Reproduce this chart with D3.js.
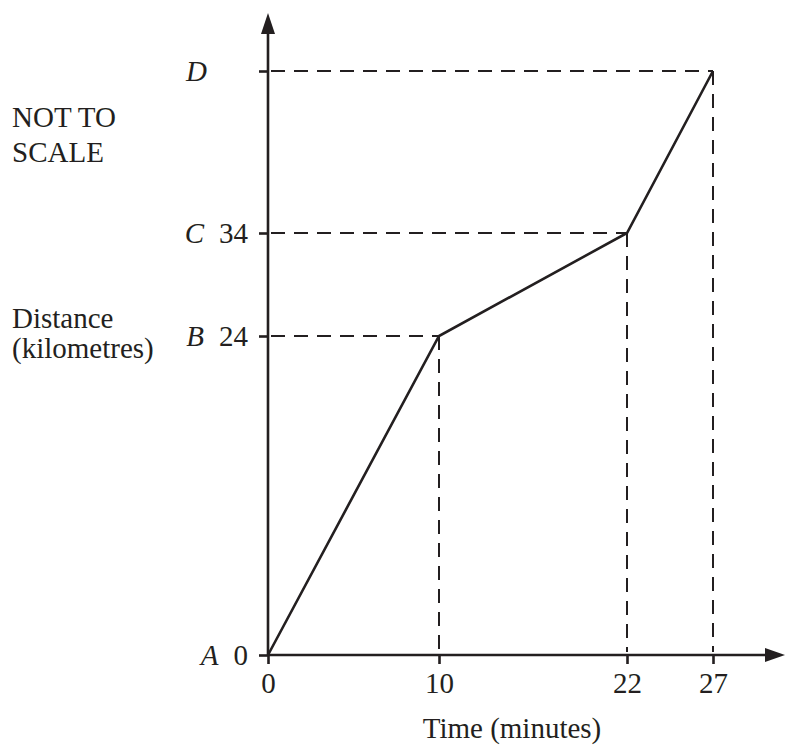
<!DOCTYPE html>
<html>
<head>
<meta charset="utf-8">
<script src="https://cdn.jsdelivr.net/npm/d3@7"></script>
<style>
  body { margin: 0; background: #fff; }
  text { font-family: "Liberation Serif", "Times New Roman", serif; font-size: 29px; fill: #231f20; }
</style>
</head>
<body>
<script>
// graph is NOT TO SCALE, so both scales are piecewise
var times = [0, 10, 22, 27];
var places = ["A", "B", "C", "D"];
var distances = [0, 24, 34, null];

var W = 787, H = 753;
var ink = "#231f20";

var x = d3.scaleLinear()
  .domain(times)
  .range([268, 439, 627, 713]);

// y is positioned by stop index, since D has no value given
var y = d3.scaleLinear()
  .domain([0, 1, 2, 3])
  .range([655, 336, 233, 71]);

var svg = d3.select("body").append("svg")
  .attr("width", W)
  .attr("height", H);

var pts = times.map(function(t, i) {
  return { t: t, i: i, place: places[i], dist: distances[i] };
});

// dashed guides
var guides = svg.append("g")
  .attr("stroke", ink)
  .attr("stroke-width", 2)
  .attr("stroke-dasharray", "14,9");

guides.selectAll("line.h")
  .data(pts.slice(1))
  .enter().append("line")
  .attr("class", "h")
  .attr("x1", x(0) + 3).attr("x2", function(d) { return x(d.t); })
  .attr("y1", function(d) { return y(d.i); })
  .attr("y2", function(d) { return y(d.i); });

guides.selectAll("line.v")
  .data(pts.slice(1))
  .enter().append("line")
  .attr("class", "v")
  .attr("x1", function(d) { return x(d.t); })
  .attr("x2", function(d) { return x(d.t); })
  .attr("y1", function(d) { return y(d.i); })
  .attr("y2", y(0) - 3);

// axes
var xAxis = d3.axisBottom(x)
  .tickValues(times)
  .tickSize(9)
  .tickPadding(8)
  .tickFormat(function(d) { return d; });

var gx = svg.append("g")
  .attr("transform", "translate(0," + y(0) + ")")
  .call(xAxis);

var yAxis = d3.axisLeft(y)
  .tickValues([0, 1, 2, 3])
  .tickSize(9)
  .tickFormat("");

var gy = svg.append("g")
  .attr("transform", "translate(" + x(0) + ",0)")
  .call(yAxis);

[gx, gy].forEach(function(g) {
  g.select(".domain").remove();
  g.selectAll(".tick line").attr("stroke", ink).attr("stroke-width", 2.6);
});
gx.selectAll(".tick text")
  .attr("font-size", null)
  .attr("font-family", null)
  .style("fill", ink);

// axis lines with arrow heads
svg.append("line")
  .attr("x1", x(0)).attr("x2", 770)
  .attr("y1", y(0)).attr("y2", y(0))
  .attr("stroke", ink).attr("stroke-width", 2.6);
svg.append("path")
  .attr("d", "M765," + (y(0) - 7) + "L785," + y(0) + "L765," + (y(0) + 7) + "Z")
  .attr("fill", ink);

svg.append("line")
  .attr("x1", x(0)).attr("x2", x(0))
  .attr("y1", y(0)).attr("y2", 30)
  .attr("stroke", ink).attr("stroke-width", 2.6);
svg.append("path")
  .attr("d", "M" + (x(0) - 7) + ",34L" + x(0) + ",13L" + (x(0) + 7) + ",34Z")
  .attr("fill", ink);

// journey line
var line = d3.line()
  .x(function(d) { return x(d.t); })
  .y(function(d) { return y(d.i); });

svg.append("path")
  .datum(pts)
  .attr("d", line)
  .attr("fill", "none")
  .attr("stroke", ink)
  .attr("stroke-width", 2.6)
  .attr("stroke-linejoin", "miter");

// y labels: place letter + distance
var lab = svg.selectAll("text.ylab")
  .data(pts)
  .enter().append("text")
  .attr("class", "ylab")
  .attr("text-anchor", "end")
  .attr("x", function(d) { return d.dist === null ? 207 : 248; })
  .attr("y", function(d) { return y(d.i); })
  .attr("dy", "0.35em");

lab.append("tspan")
  .attr("font-style", "italic")
  .text(function(d) { return d.place; });
lab.filter(function(d) { return d.dist !== null; })
  .append("tspan")
  .attr("dx", 15)
  .text(function(d) { return d.dist; });

// side notes and axis title
var notes = svg.append("g");
notes.append("text").attr("x", 12).attr("y", 127).text("NOT TO");
notes.append("text").attr("x", 12).attr("y", 162).text("SCALE");
notes.append("text").attr("x", 12).attr("y", 328).text("Distance");
notes.append("text").attr("x", 12).attr("y", 358).text("(kilometres)");

svg.append("text")
  .attr("x", 512).attr("y", 738)
  .attr("text-anchor", "middle")
  .text("Time (minutes)");
</script>
</body>
</html>
